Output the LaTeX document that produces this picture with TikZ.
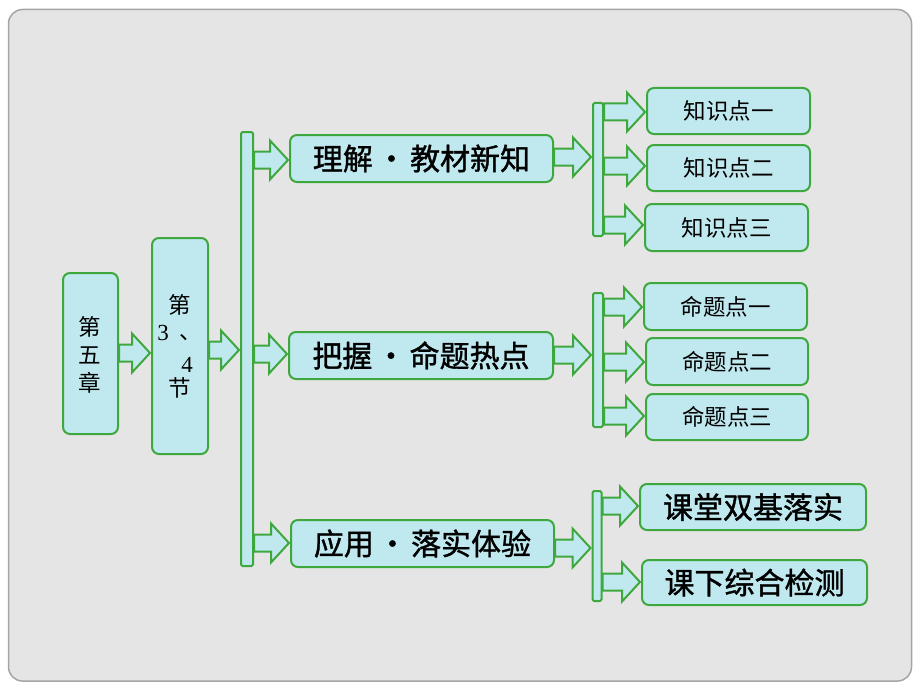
\documentclass[tikz,border=0pt]{standalone}
\usepackage{fontspec}
\usetikzlibrary{calc}
\newfontfamily\cjk{Noto Sans CJK SC}
\newfontfamily\cjkheavy[FakeBold=1.2]{Noto Sans CJK SC}
\newfontfamily\serifd{Liberation Serif}
\definecolor{boxfill}{RGB}{192,233,239}
\definecolor{boxline}{RGB}{62,168,62}
\definecolor{bgfill}{RGB}{229,229,229}
\definecolor{bgline}{RGB}{165,165,165}
\tikzset{
 box/.style={draw=boxline, fill=boxfill, line width=2pt, rounded corners=7pt, inner sep=0pt},
 bigtext/.style={font=\cjkheavy\fontsize{30}{30}\selectfont},
 smalltext/.style={font=\cjk\fontsize{22.5}{22.5}\selectfont},
 digittext/.style={font=\serifd\fontsize{23}{23}\selectfont},
 barsty/.style={draw=boxline, fill=boxfill, line width=2pt, rounded corners=1.5pt, inner sep=0pt},
 arrowsty/.style={draw=boxline, fill=boxfill, line width=2pt, line join=miter},
}
\newcommand\blockarrow[3]{%
 \path[arrowsty] let \p1=(#1), \p2=(#2), \p3=(#3) in
 (\x1,\y3+8.5pt) -- (\x2-19pt,\y3+8.5pt) -- (\x2-19pt,\y3+19.5pt) -- (\x2-1pt,\y3) --
 (\x2-19pt,\y3-19.5pt) -- (\x2-19pt,\y3-8.5pt) -- (\x1,\y3-8.5pt) -- cycle;}
\newcommand\dotsep{\hspace{0.12em}•\hspace{0.12em}}
\begin{document}
\begin{tikzpicture}[x=1pt,y=-1pt]
\useasboundingbox (0,0) rectangle (920,690);
\fill[white] (0,0) rectangle (920,690);
\draw[bgline, fill=bgfill, line width=1.5pt, rounded corners=14pt] (8.5,9.5) rectangle (911.5,681);

% left boxes
\node[box, minimum width=55pt, minimum height=161pt] (ch) at (90.5,353.5) {};
\node[smalltext] (chA) at (90,327) {第};
\node[smalltext] (chB) at (90,355) {五};
\node[smalltext] (chC) at (90,383) {章};

\node[box, minimum width=56pt, minimum height=216pt] (sec) at (180,346) {};
\node[smalltext] (secA) at (180,305) {第};
\node[digittext] (secB) at (163,333) {3};
\node[smalltext] (secC) at (191,338) {、};
\node[digittext] (secD) at (187,365) {4};
\node[smalltext] (secE) at (180,388) {节};

% big bar
\node[barsty, minimum width=12pt, minimum height=434pt] (bar) at (247,349) {};

% middle boxes
\node[box, bigtext, minimum width=263pt, minimum height=47pt] (mA) at (421.5,158.5) {理解\dotsep 教材新知};
\node[box, bigtext, minimum width=264pt, minimum height=47pt] (mB) at (421,355.5) {把握\dotsep 命题热点};
\node[box, bigtext, minimum width=263pt, minimum height=47pt] (mC) at (422.5,543.5) {应用\dotsep 落实体验};

% small bars
\node[barsty, minimum width=10pt, minimum height=133pt] (sA) at (598,169.5) {};
\node[barsty, minimum width=10pt, minimum height=134pt] (sB) at (598,360) {};
\node[barsty, minimum width=9pt, minimum height=110pt] (sC) at (597,546) {};

% right boxes
\node[box, smalltext, minimum width=163pt, minimum height=46pt] (kA) at (728.5,111) {知识点一};
\node[box, smalltext, minimum width=163pt, minimum height=46pt] (kB) at (728.5,168) {知识点二};
\node[box, smalltext, minimum width=163pt, minimum height=47pt] (kC) at (726.5,227.5) {知识点三};
\node[box, smalltext, minimum width=163pt, minimum height=47pt] (pA) at (725.5,306.5) {命题点一};
\node[box, smalltext, minimum width=162pt, minimum height=47pt] (pB) at (727,361.5) {命题点二};
\node[box, smalltext, minimum width=162pt, minimum height=46pt] (pC) at (727,417) {命题点三};
\node[box, bigtext, minimum width=226pt, minimum height=46pt] (cA) at (753,507) {课堂双基落实};
\node[box, bigtext, minimum width=225pt, minimum height=45pt] (cB) at (754.5,582.5) {课下综合检测};

% arrows
\blockarrow{ch.east}{sec.west}{0,353}
\blockarrow{sec.east}{bar.west}{0,350}
\blockarrow{bar.east}{mA.west}{0,160}
\blockarrow{bar.east}{mB.west}{0,354}
\blockarrow{bar.east}{mC.west}{0,543}
\blockarrow{mA.east}{sA.west}{0,157}
\blockarrow{mB.east}{sB.west}{0,355}
\blockarrow{mC.east}{sC.west}{0,548}
\blockarrow{sA.east}{kA.west}{0,112}
\blockarrow{sA.east}{kB.west}{0,166}
\blockarrow{sA.east}{kC.west}{0,225}
\blockarrow{sB.east}{pA.west}{0,307}
\blockarrow{sB.east}{pB.west}{0,362}
\blockarrow{sB.east}{pC.west}{0,416}
\blockarrow{sC.east}{cA.west}{0,506}
\blockarrow{sC.east}{cB.west}{0,582}
\end{tikzpicture}
\end{document}
